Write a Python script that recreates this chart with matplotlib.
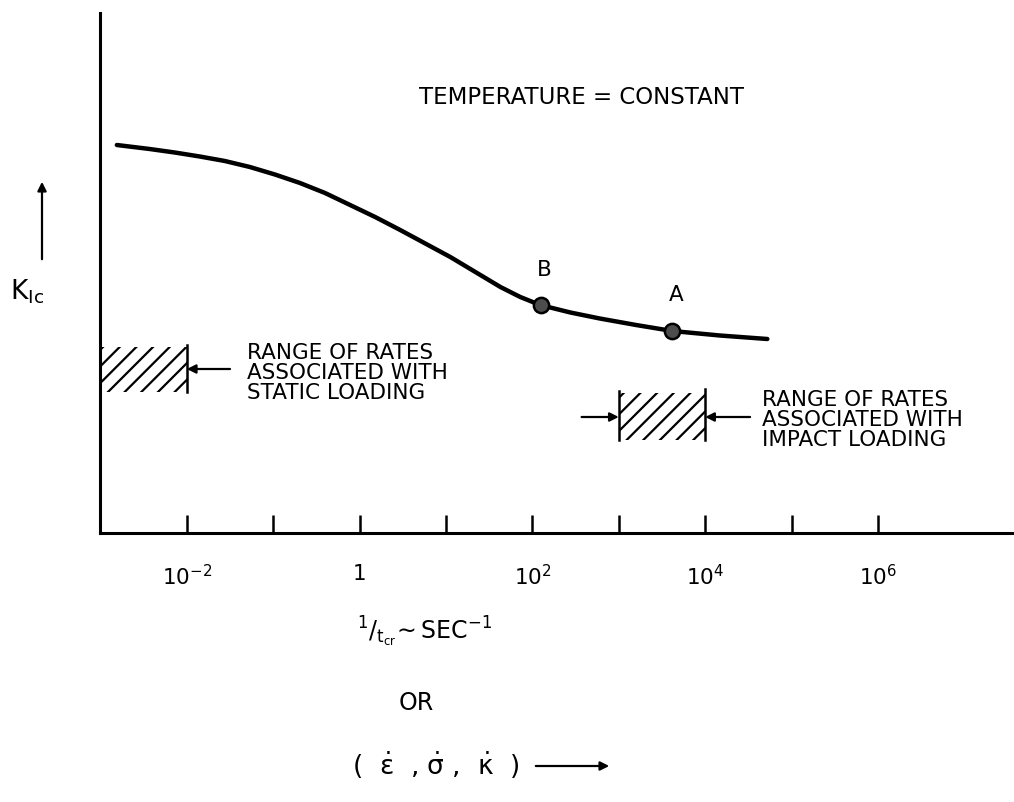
import numpy as np
import matplotlib
matplotlib.use("Agg")
import matplotlib.pyplot as plt
from matplotlib.patches import FancyArrowPatch
from matplotlib.ticker import NullLocator

plt.rcParams['font.family'] = ['DejaVu Sans']
plt.rcParams['mathtext.default'] = 'regular'
plt.rcParams['hatch.linewidth'] = 1.6

# curve: log10(1/t_cr) and K_Ic (arbitrary units)
curve_logx = [-2.81, -2.43, -2.14, -1.85, -1.56, -1.27, -0.98, -0.69, -0.40, -0.11,
              0.18, 0.47, 0.76, 1.05, 1.34, 1.63, 1.86, 2.09, 2.44, 2.78,
              3.20, 3.62, 4.17, 4.72]
curve_k = [388, 384, 380.5, 376.5, 372, 366, 358.5, 350, 340, 328,
           316, 303, 289.5, 276, 261, 246, 236, 228, 220.5, 214.5,
           208, 202, 197.5, 194]

# marked points
point_names = ['B', 'A']
point_logx = [2.10, 3.62]
point_k = [228, 202]

# rate ranges (log10 limits) and their K band
static_range = [-3.0, -2.0]
static_k = [141, 186]
impact_range = [3.0, 4.0]
impact_k = [93, 140]

tick_exp = [-2, -1, 0, 1, 2, 3, 4, 5, 6]
tick_labels = ['$10^{-2}$', '', '1', '', '$10^{2}$', '', '$10^{4}$', '', '$10^{6}$']

fig = plt.figure(figsize=(10.14, 8.02), dpi=100)
ax = fig.add_axes([100 / 1014, 269 / 802, 914 / 1014, 520 / 802])
ax.set_xscale('log')
ax.set_xlim(10 ** -3.005, 10 ** 7.575)
ax.set_ylim(0, 520)

for s in ['top', 'right']:
    ax.spines[s].set_visible(False)
for s in ['left', 'bottom']:
    ax.spines[s].set_linewidth(2.2)

ax.set_xticks([10.0 ** e for e in tick_exp])
ax.set_xticklabels(tick_labels)
ax.xaxis.set_minor_locator(NullLocator())
ax.tick_params(axis='x', direction='in', length=13, width=1.8, labelsize=15.5, pad=22)
ax.set_yticks([])

# main curve
cx = 10.0 ** np.array(curve_logx)
ax.plot(cx, curve_k, color='black', lw=3.2, solid_capstyle='round',
        solid_joinstyle='round')

# points A and B
px = 10.0 ** np.array(point_logx)
ax.plot(px, point_k, 'o', ms=11, mfc='0.3', mec='black', mew=1.8)
label_dy = {'B': 35, 'A': 36}
for name, x, y in zip(point_names, px, point_k):
    ax.text(x * 1.1, y + label_dy[name], name, fontsize=15.5,
            ha='center', va='center')

# hatched rate bands
for rng, kb in [(static_range, static_k), (impact_range, impact_k)]:
    xs = [10.0 ** rng[0], 10.0 ** rng[1]]
    ax.fill_between(xs, kb[0], kb[1], facecolor='none', edgecolor='black',
                    hatch='//', linewidth=0)
ax.plot([10.0 ** static_range[1]] * 2, [static_k[0], static_k[1] + 2], color='black', lw=1.8)
ax.plot([10.0 ** impact_range[0]] * 2, [impact_k[0], impact_k[1] + 2], color='black', lw=1.8)
ax.plot([10.0 ** impact_range[1]] * 2, [impact_k[0], impact_k[1] + 4], color='black', lw=1.8)

arrow = dict(arrowstyle='-|>', lw=1.6, color='black', mutation_scale=13,
             shrinkA=0, shrinkB=0)
ax.annotate('', xy=(10.0 ** -2.0, 164), xytext=(10.0 ** -1.5, 164), arrowprops=arrow)
ax.annotate('', xy=(10.0 ** 3.0, 116), xytext=(10.0 ** 2.57, 116), arrowprops=arrow)
ax.annotate('', xy=(10.0 ** 4.0, 116), xytext=(10.0 ** 4.52, 116), arrowprops=arrow)

ax.text(10.0 ** -1.30, 160, 'RANGE OF RATES\nASSOCIATED WITH\nSTATIC LOADING',
        fontsize=15.5, ha='left', va='center', linespacing=1.0)
ax.text(10.0 ** 4.66, 113, 'RANGE OF RATES\nASSOCIATED WITH\nIMPACT LOADING',
        fontsize=15.5, ha='left', va='center', linespacing=1.0)
ax.text(10.0 ** 2.57, 436, 'TEMPERATURE = CONSTANT', fontsize=16.5,
        ha='center', va='center')

# y label with arrow
fig.text(10 / 1014, 1 - 292 / 802, 'K$_{Ic}$', fontsize=19, ha='left', va='center')
fig.add_artist(FancyArrowPatch(
    (42 / 1014, 1 - 262 / 802), (42 / 1014, 1 - 179 / 802),
    transform=fig.transFigure, arrowstyle='-|>', lw=1.6, color='black',
    mutation_scale=13))

# x label block
fig.text(425 / 1014, 1 - 632 / 802, r'$^{1}/_{t_{cr}}\!\sim$SEC$^{-1}$',
         fontsize=17, ha='center', va='center')
fig.text(416 / 1014, 1 - 703 / 802, 'OR', fontsize=17, ha='center', va='center')
fig.text(352 / 1014, 1 - 765 / 802,
         r'(  $\dot{\epsilon}$  , $\dot{\sigma}$ ,  $\dot{\kappa}$  )',
         fontsize=19, ha='left', va='center')
fig.add_artist(FancyArrowPatch(
    (533 / 1014, 1 - 766 / 802), (612 / 1014, 1 - 766 / 802),
    transform=fig.transFigure, arrowstyle='-|>', lw=1.6, color='black',
    mutation_scale=13))

fig.savefig('out.png', dpi=100)
